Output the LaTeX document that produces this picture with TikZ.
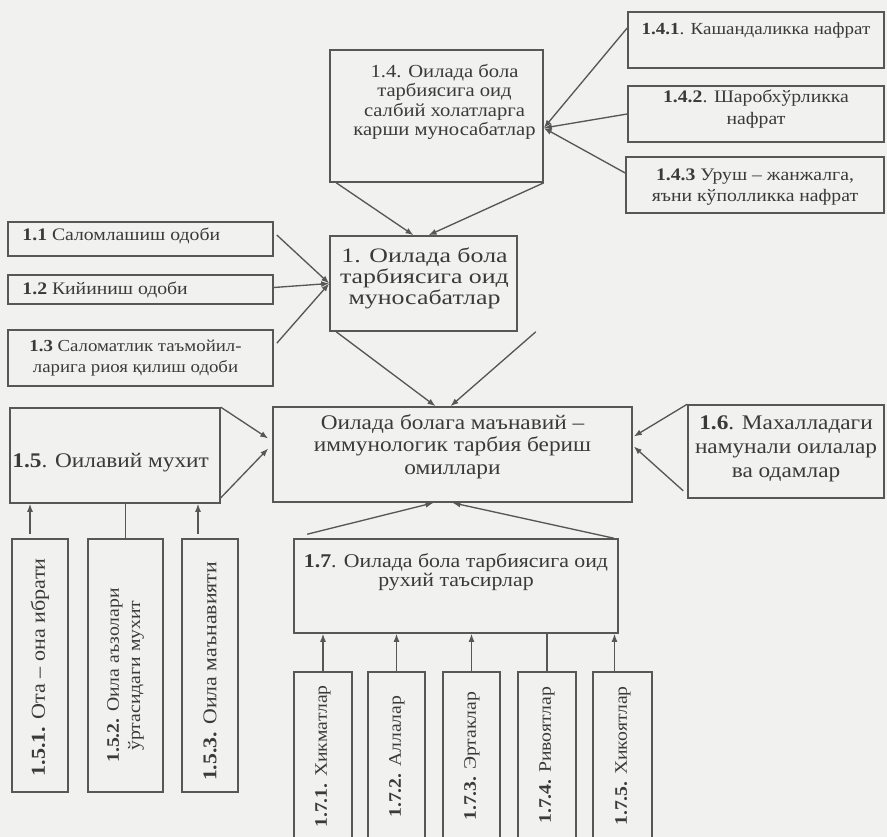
\documentclass[tikz,border=0pt]{standalone}
\usepackage{fontspec}
\setmainfont{Liberation Serif}[FakeStretch=1.12]
\newfontfamily\widefont{Liberation Serif}[FakeStretch=1.26]
\usetikzlibrary{arrows.meta,fit,calc}
\definecolor{bg}{HTML}{F1F1EF}
\definecolor{ln}{HTML}{575757}
\definecolor{tx}{HTML}{3A3A3A}
\begin{document}
\begin{tikzpicture}[x=0.75pt,y=-0.75pt,
  bx/.style={draw=ln,line width=1.2pt,inner sep=0pt},
  txt/.style={text=tx,font=\fontsize{15.6}{17}\selectfont,align=center,inner sep=0pt},
  stxt/.style={txt,font=\fontsize{13.2}{16}\selectfont},
  vt/.style={stxt,rotate=90},
  arr/.style={draw=ln,line width=1pt,-{Latex[length=6pt,width=4.5pt]}},
  ln0/.style={draw=ln,line width=1pt}]
\path[use as bounding box,fill=bg] (0,0) rectangle (887,837);
% boxes
\node[bx,fit={(628,12)(884,68)}] (b141) {};
\node[bx,fit={(628,86)(884,142)}] (b142) {};
\node[bx,fit={(626,157)(884,213)}] (b143) {};
\node[bx,fit={(330,50)(543,182)}] (b14) {};
\node[bx,fit={(8,222)(273,256)}] (b11) {};
\node[bx,fit={(8,275)(273,304)}] (b12) {};
\node[bx,fit={(8,330)(273,386)}] (b13) {};
\node[bx,fit={(330,236)(517,331)}] (b1) {};
\node[bx,fit={(273,407)(632,502)}] (bm) {};
\node[bx,fit={(10,408)(220,503)}] (b15) {};
\node[bx,fit={(688,405)(884,498)}] (b16) {};
\node[bx,fit={(294,539)(618,633)}] (b17) {};
\node[bx,fit={(12,539)(68,792)}] (b151) {};
\node[bx,fit={(88,539)(163,792)}] (b152) {};
\node[bx,fit={(182,539)(238,792)}] (b153) {};
\node[bx,fit={(294,672)(352,845)}] (b171) {};
\node[bx,fit={(368,672)(425,845)}] (b172) {};
\node[bx,fit={(443,672)(500,845)}] (b173) {};
\node[bx,fit={(518,672)(576,845)}] (b174) {};
\node[bx,fit={(593,672)(652,845)}] (b175) {};
% texts
\node[stxt,font=\fontsize{12.7}{16}\selectfont] (t141) at ($(b141.center)+(0,-10)$) {\textbf{1.4.1}. Кашандаликка нафрат};
\node[stxt] (t142) at ($(b142.center)+(0,-5)$) {\textbf{1.4.2}. Шаробхўрликка\\нафрат};
\node[stxt] (t143) at ($(b143.center)+(0,2)$) {\textbf{1.4.3} Уруш – жанжалга,\\яъни кўполликка нафрат};
\node[txt,font=\fontsize{13.8}{14.6}\selectfont] (t14) at ($(b14.center)+(8,-14)$) {1.4. Оилада бола\\тарбиясига оид\\салбий холатларга\\карши муносабатлар};
\node[stxt,anchor=west] (t11) at ($(b11.west)+(15,-3)$) {\textbf{1.1} Саломлашиш одоби};
\node[stxt,anchor=west] (t12) at ($(b12.west)+(15,0)$) {\textbf{1.2} Кийиниш одоби};
\node[stxt,font=\fontsize{12.6}{16}\selectfont] (t13) at ($(b13.center)+(-5,0)$) {\textbf{1.3} Саломатлик таъмойил-\\ларига риоя қилиш одоби};
\node[txt,font=\widefont\fontsize{15.4}{15.6}\selectfont] (t1) at ($(b1.center)+(1,-5)$) {1. Оилада бола\\тарбиясига оид\\муносабатлар};
\node[txt] (tm) at ($(bm.center)+(0,-8)$) {Оилада болага маънавий –\\иммунологик тарбия бериш\\омиллари};
\node[txt,anchor=west] (t15) at ($(b15.west)+(3,7)$) {\textbf{1.5}. Оилавий мухит};
\node[txt,font=\fontsize{15.6}{18}\selectfont] (t16) at ($(b16.center)+(0,-3)$) {\textbf{1.6}. Махалладаги\\намунали оилалар\\ва одамлар};
\node[txt,font=\fontsize{14.6}{14.5}\selectfont] (t17) at ($(b17.center)+(0,-14)$) {\textbf{1.7}. Оилада бола тарбиясига оид\\рухий таъсирлар};
\node[vt,font=\fontsize{14.8}{16}\selectfont] (t151) at ($(b151.center)+(0,2)$) {\textbf{1.5.1.} Ота – она ибрати};
\node[vt] (t152) at ($(b152.center)+(0,10)$) {\textbf{1.5.2.} Оила аъзолари\\ўртасидаги мухит};
\node[vt,font=\fontsize{14.6}{16}\selectfont] (t153) at ($(b153.center)+(0,6)$) {\textbf{1.5.3.} Оила маънавияти};
\node[vt,anchor=west] (t171) at (323,828) {\textbf{1.7.1.} Хикматлар};
\node[vt,anchor=west] (t172) at (397,818) {\textbf{1.7.2.} Аллалар};
\node[vt,anchor=west] (t173) at (472,821) {\textbf{1.7.3.} Эртаклар};
\node[vt,anchor=west] (t174) at (547,824) {\textbf{1.7.4.} Ривоятлар};
\node[vt,anchor=west] (t175) at (623,826) {\textbf{1.7.5.} Хикоятлар};
% connectors to 1.4
\coordinate (p14) at ($(b14.east)+(0,12)$);
\draw[arr] ($(b141.west)+(0,-12)$) -- (p14);
\draw[arr] (b142.west) -- (p14);
\draw[arr] ($(b143.west)+(0,-12)$) -- (p14);
% 1.4 -> 1
\draw[arr] ($(b14.south west)+(7,0)$) -- ($(b1.north)+(-10,0)$);
\draw[arr] (b14.south east) -- ($(b1.north)+(5,0)$);
% 1.1-1.3 -> 1
\coordinate (p1) at (b1.west);
\draw[arr] ($(b11.east)+(3,-4)$) -- (p1);
\draw[arr] ($(b12.east)+(0,-2)$) -- (p1);
\draw[arr] ($(b13.north east)+(3,14)$) -- (p1);
% 1 -> main
\draw[arr] ($(b1.south west)+(7,0)$) -- ($(bm.north)+(-17,0)$);
\draw[arr] ($(b1.south east)+(18,0)$) -- ($(bm.north)+(-2,0)$);
% 1.5 -> main
\draw[arr] (b15.north east) -- ($(bm.west)+(-4,-16)$);
\draw[arr] ($(b15.south east)+(0,-6)$) -- ($(bm.west)+(-4,-6)$);
% 1.6 -> main
\draw[arr] (b16.north west) -- ($(bm.east)+(1,-18)$);
\draw[arr] ($(b16.south west)+(-4,-8)$) -- ($(bm.east)+(1,-8)$);
% 1.7 -> main
\draw[arr] ($(b17.north west)+(14,-4)$) -- ($(bm.south)+(-19,0)$);
\draw[arr] ($(b17.north east)+(-5,0)$) -- ($(bm.south)+(0,0)$);
% 1.5.x -> 1.5
\draw[arr] ($(b151.north)+(-10,-4)$) -- ($(b151.north |- b15.south)+(-10,0)$);
\draw[ln0] (b152.north) -- (b152.north |- b15.south);
\draw[arr] ($(b153.north)+(-12,-4)$) -- ($(b153.north |- b15.south)+(-12,0)$);
% 1.7.x -> 1.7
\draw[arr] (b171.north) -- (b171.north |- b17.south);
\draw[arr] (b172.north) -- (b172.north |- b17.south);
\draw[arr] (b173.north) -- (b173.north |- b17.south);
\draw[ln0] (b174.north) -- (b174.north |- b17.south);
\draw[arr] ($(b175.north)+(-8,0)$) -- ($(b175.north |- b17.south)+(-8,0)$);
\end{tikzpicture}
\end{document}
